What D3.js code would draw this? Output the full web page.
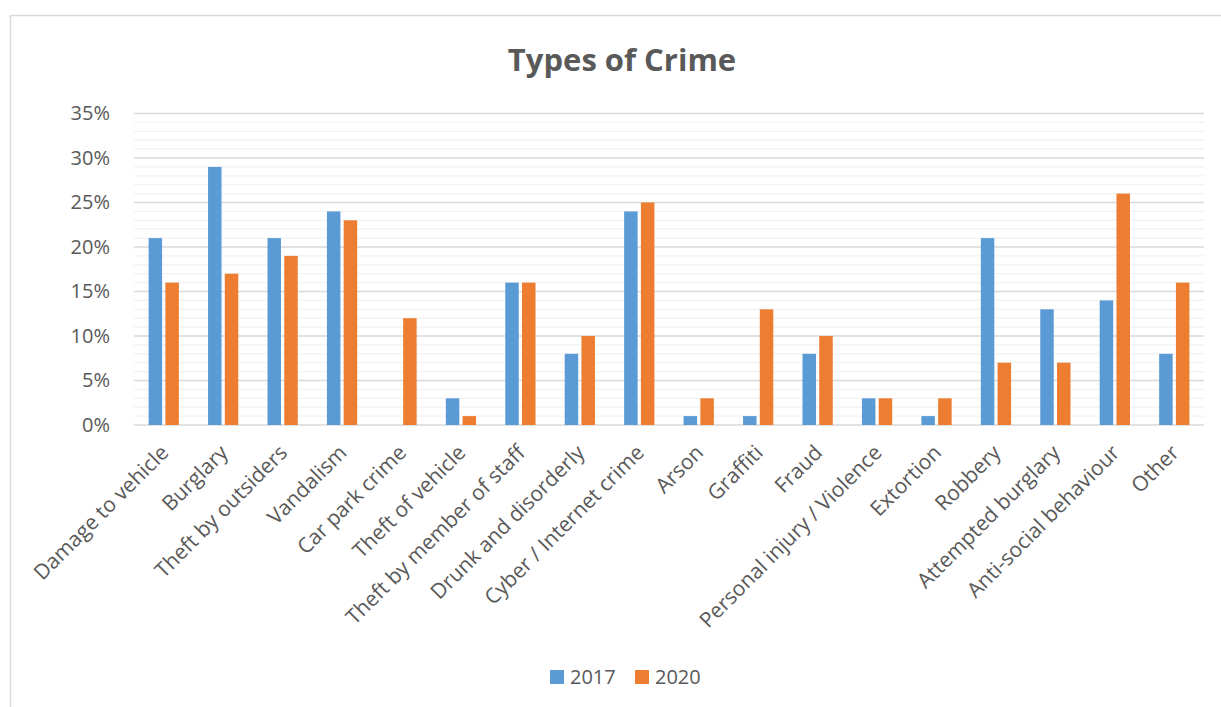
<!DOCTYPE html>
<html><head><meta charset="utf-8">
<script src="https://cdn.jsdelivr.net/npm/d3@7"></script>
<style>body{margin:0;background:#fff;}svg{display:block;font-family:"Open Sans",sans-serif;}</style>
</head><body><svg id="c" width="1221" height="707"></svg>
<script>
const categories = ["Damage to vehicle","Burglary","Theft by outsiders","Vandalism","Car park crime","Theft of vehicle","Theft by member of staff","Drunk and disorderly","Cyber / Internet crime","Arson","Graffiti","Fraud","Personal injury / Violence","Extortion","Robbery","Attempted burglary","Anti-social behaviour","Other"];
const series2017 = [21,29,21,24,0,3,16,8,24,1,1,8,3,1,21,13,14,8];
const series2020 = [16,17,19,23,12,1,16,10,25,3,13,10,3,3,7,7,26,16];
const seriesNames = ["2017","2020"];
const colors = ["#5B9BD5","#ED7D31"];
const yTicks = [0,5,10,15,20,25,30,35];

const svg = d3.select("#c");
const W = 1221, H = 707;
const m = {left:134, right:1204, top:113.5, bottom:425};

svg.append("rect").attr("x",10.5).attr("y",15.5).attr("width",1230).attr("height",720)
  .attr("fill","#fff").attr("stroke","#d9d9d9").attr("stroke-width",1.5);

const x = d3.scaleBand().domain(categories).range([m.left,m.right]);
const y = d3.scaleLinear().domain([0,35]).range([m.bottom,m.top]);

// minor gridlines
const minor = d3.range(0,36).filter(v=>v%5!==0);
svg.append("g").selectAll("line").data(minor).join("line")
  .attr("x1",m.left).attr("x2",m.right).attr("y1",d=>y(d)).attr("y2",d=>y(d))
  .attr("stroke","#f2f2f2").attr("stroke-width",1.2);
svg.append("g").selectAll("line").data(yTicks).join("line")
  .attr("x1",m.left).attr("x2",m.right).attr("y1",d=>y(d)).attr("y2",d=>y(d))
  .attr("stroke","#d9d9d9").attr("stroke-width",1.4);

// y axis labels
const yAxis = d3.axisLeft(y).tickValues(yTicks).tickFormat(d=>d+"%").tickSize(0).tickPadding(24);
const ya = svg.append("g").attr("transform",`translate(${m.left},0)`).call(yAxis);
ya.select(".domain").remove();
ya.selectAll("text").attr("fill","#595959").style("font-size","20px").style("font-family","'Open Sans',sans-serif");

// bars
const bw = x.bandwidth();
const barW = bw*0.227, gap = bw*0.055;
const data = categories.map((c,i)=>({c, v:[series2017[i],series2020[i]]}));
[0,1].forEach(s=>{
  svg.append("g").selectAll("rect").data(data).join("rect")
    .attr("x",d=>x(d.c)+bw/2 + (s===0 ? -gap/2-barW : gap/2))
    .attr("y",d=>y(d.v[s]))
    .attr("width",barW)
    .attr("height",d=>y(0)-y(d.v[s]))
    .attr("fill",colors[s]);
});

// x labels
svg.append("g").selectAll("text").data(categories).join("text")
  .attr("transform",d=>`translate(${x(d)+bw/2+6},${m.bottom+29}) rotate(-45)`)
  .attr("text-anchor","end").attr("fill","#595959").style("font-size","21px")
  .text(d=>d);

// title
svg.append("text").attr("x",622).attr("y",71).attr("text-anchor","middle")
  .attr("fill","#595959").style("font-size","31px").style("font-weight","bold").text("Types of Crime");

// legend
const lg = svg.append("g");
const lx = [550,635];
seriesNames.forEach((n,i)=>{
  lg.append("rect").attr("x",lx[i]).attr("y",670).attr("width",14).attr("height",14).attr("fill",colors[i]);
  lg.append("text").attr("x",lx[i]+20).attr("y",684).attr("fill","#595959").style("font-size","20px").text(n);
});
</script></body></html>
